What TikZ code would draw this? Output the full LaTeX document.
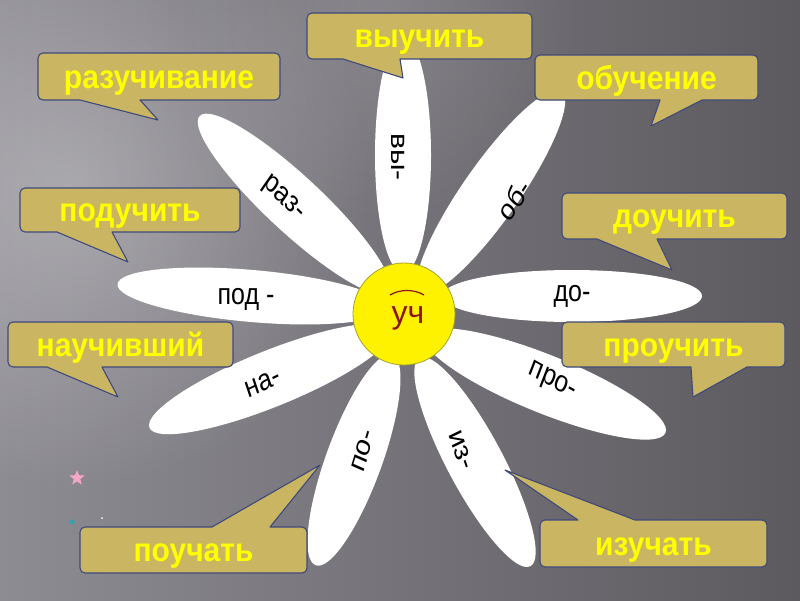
\documentclass[tikz,border=0pt]{standalone}
\usepackage{fontspec}
\setmainfont{Liberation Sans}
\usetikzlibrary{shapes.geometric,fadings}
\definecolor{bgL}{HTML}{8E8C93}
\definecolor{bgR}{HTML}{5C595F}
\definecolor{cfill}{RGB}{201,181,98}
\definecolor{cline}{HTML}{3F4A7A}
\definecolor{ytext}{HTML}{FFFF00}
\definecolor{rootred}{HTML}{8E1414}
\definecolor{ring}{HTML}{A3A32A}
\definecolor{starpink}{HTML}{F4A6C8}
\definecolor{teal}{HTML}{2FA3B5}
\tikzfading[name=glow, inner color=transparent!0, outer color=transparent!100]
\tikzset{
 callout/.style={fill=cfill, draw=cline, line width=1.1pt, line join=round},
 lbl/.style={text=ytext, font=\fontsize{30}{30}\selectfont\bfseries, inner sep=0pt, anchor=base, yscale=1.1},
 petal/.style={fill=white},
 plabel/.style={font=\fontsize{25}{25}\selectfont, text=black, inner sep=0pt, yscale=1.2},
}
% box x1 y1 x2 y2, base bx1 bx2, tip tx ty  (screen coordinates, y down)
\newcommand\calloutB[8]{%
 \filldraw[callout] ({#1+5},-#2) -- ({#3-5},-#2) arc[start angle=90,end angle=0,radius=5]
  -- (#3,{-#4+5}) arc[start angle=0,end angle=-90,radius=5]
  -- (#6,-#4) -- (#7,-#8) -- (#5,-#4)
  -- ({#1+5},-#4) arc[start angle=270,end angle=180,radius=5]
  -- (#1,{-#2-5}) arc[start angle=180,end angle=90,radius=5] -- cycle;}
\newcommand\calloutT[8]{%
 \filldraw[callout] ({#1+5},-#2) -- (#5,-#2) -- (#7,-#8) -- (#6,-#2)
  -- ({#3-5},-#2) arc[start angle=90,end angle=0,radius=5]
  -- (#3,{-#4+5}) arc[start angle=0,end angle=-90,radius=5]
  -- ({#1+5},-#4) arc[start angle=270,end angle=180,radius=5]
  -- (#1,{-#2-5}) arc[start angle=180,end angle=90,radius=5] -- cycle;}
\begin{document}
\begin{tikzpicture}[x=1pt,y=1pt]
\useasboundingbox (0,0) rectangle (800,-600);
% background
\fill[left color=bgL, right color=bgR] (0,0) rectangle (800,-600);
\begin{scope}
\clip (0,0) rectangle (800,-600);
\fill[white, opacity=0.28, path fading=glow] (70,-190) circle (300);
\fill[white, opacity=0.12, path fading=glow] (380,-20) circle (200);
\end{scope}
% petals
\fill[petal, rotate around={90:(403,-155)}] (403,-155) ellipse [x radius=118, y radius=28];
\fill[petal, rotate around={-43:(294,-204)}] (294,-204) ellipse [x radius=129, y radius=28];
\fill[petal, rotate around={55:(491,-192)}] (491,-192) ellipse [x radius=123, y radius=28];
\fill[petal, rotate around={-5:(252,-296)}] (252,-296) ellipse [x radius=135, y radius=26];
\fill[petal] (572,-296) ellipse [x radius=130, y radius=26];
\fill[petal, rotate around={22:(270,-379)}] (270,-379) ellipse [x radius=130, y radius=28];
\fill[petal, rotate around={-22:(545,-384)}] (545,-384) ellipse [x radius=130, y radius=29];
\fill[petal, rotate around={70:(354,-460)}] (354,-460) ellipse [x radius=112, y radius=28];
\fill[petal, rotate around={-62:(475,-462)}] (475,-462) ellipse [x radius=118, y radius=28];
% petal labels
\node[plabel, rotate=-90] (p1) at (398,-157) {вы-};
\node[plabel, rotate=-40] (p2) at (283,-199) {раз-};
\node[plabel, rotate=52] (p3) at (514,-200) {об-};
\node[plabel] (p4) at (246,-299) {под -};
\node[plabel] (p5) at (572,-296) {до-};
\node[plabel, rotate=22] (p6) at (263,-383) {на-};
\node[plabel, rotate=-25] (p7) at (552,-382) {про-};
\node[plabel, rotate=70] (p8) at (363,-451) {по-};
\node[plabel, rotate=-68] (p9) at (461,-450) {из-};
% centre
\filldraw[fill=yellow, draw=ring, line width=0.8pt] (404,-314) circle (51);
\node[font=\fontsize{32}{32}\selectfont, text=rootred, inner sep=0pt, anchor=base] (root) at (408,-323) {уч};
\draw[rootred, line width=1.2pt] (390,-295) .. controls (400,-289) and (414,-289) .. (424,-295);
% callouts
\calloutB{307}{13}{532}{59}{343}{400}{403}{78}
\node[lbl] (c1) at (419.5,-47) {выучить};
\calloutB{38}{53}{280}{100}{80}{140}{158}{120}
\node[lbl] (c2) at (159,-88) {разучивание};
\calloutB{535}{55}{758}{100}{660}{702}{651}{126}
\node[lbl] (c3) at (646.5,-89) {обучение};
\calloutB{20}{188}{240}{232}{57}{112}{128}{262}
\node[lbl] (c4) at (130,-221) {подучить};
\calloutB{562}{193}{787}{239}{597}{657}{672}{270}
\node[lbl] (c5) at (674.5,-227) {доучить};
\calloutB{8}{322}{233}{367}{47}{102}{118}{397}
\node[lbl] (c6) at (120.5,-356) {научивший};
\calloutB{562}{322}{785}{367}{691}{747}{693}{397}
\node[lbl] (c7) at (673.5,-356) {проучить};
\calloutT{80}{527}{307}{573}{212}{270}{320}{465}
\node[lbl] (c8) at (193.5,-561) {поучать};
\calloutT{540}{520}{767}{567}{578}{635}{505}{470}
\node[lbl] (c9) at (653.5,-555) {изучать};
% decorations
\node[star, star points=5, star point ratio=2.3, fill=starpink, inner sep=0pt, minimum size=16pt] (s1) at (77,-478) {};
\node[diamond, fill=teal, inner sep=0pt, minimum size=6pt] (s2) at (72,-522) {};
\fill[white] (102,-518) circle (1);
\end{tikzpicture}
\end{document}
